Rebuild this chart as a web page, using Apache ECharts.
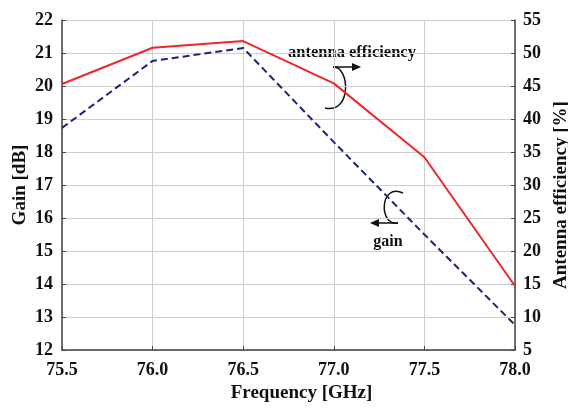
<!DOCTYPE html>
<html>
<head>
<meta charset="utf-8">
<script src="https://cdn.jsdelivr.net/npm/echarts@6/dist/echarts.min.js"></script>
<style>
  html, body { margin: 0; padding: 0; background: #fff; }
  #chart { width: 568px; height: 409px; }
</style>
</head>
<body>
<div id="chart"></div>
<script>
// values
const frequency = [75.5, 76.0, 76.5, 77.0, 77.5, 78.0];
const gain = [18.73, 20.76, 21.15, 18.3, 15.5, 12.76];
const efficiency = [45.3, 50.8, 51.8, 45.4, 34.2, 14.7];

const font = "Liberation Serif";
const labelStyle = { color: "#111", fontFamily: font, fontWeight: "bold", fontSize: 18 };
const nameStyle = { color: "#111", fontFamily: font, fontWeight: "bold", fontSize: 19 };

const myChart = echarts.init(document.getElementById("chart"));

const option = {
  backgroundColor: "#fff",
  animation: false,
  grid: { left: 62, right: 53, top: 20, bottom: 59, outerBoundsMode: "none" },
  xAxis: {
    type: "value",
    min: 75.5,
    max: 78.0,
    interval: 0.5,
    name: "Frequency [GHz]",
    nameLocation: "middle",
    nameGap: 33,
    nameTextStyle: Object.assign({ padding: [0, 0, 0, 26] }, nameStyle),
    axisLine: { lineStyle: { color: "#444", width: 1.5 } },
    axisTick: { inside: true, length: 4, lineStyle: { color: "#444" } },
    axisLabel: Object.assign({ margin: 11, formatter: (v) => v.toFixed(1) }, labelStyle),
    splitLine: { show: true, lineStyle: { color: "#cfcfcf" } },
  },
  yAxis: [
    {
      type: "value",
      min: 12,
      max: 22,
      interval: 1,
      name: "Gain [dB]",
      nameLocation: "middle",
      nameGap: 32,
      nameMoveOverlap: false,
      nameTextStyle: nameStyle,
      axisLine: { show: true, lineStyle: { color: "#444", width: 1.5 } },
      axisTick: { show: true, inside: true, length: 4, lineStyle: { color: "#444" } },
      axisLabel: Object.assign({ margin: 9 }, labelStyle),
      splitLine: { show: true, lineStyle: { color: "#cfcfcf" } },
    },
    {
      type: "value",
      min: 5,
      max: 55,
      interval: 5,
      name: "Antenna efficiency [%]",
      nameLocation: "middle",
      nameGap: 36,
      nameTextStyle: Object.assign({ padding: [0, 20, 0, 0] }, nameStyle),
      axisLine: { show: true, lineStyle: { color: "#444", width: 1.5 } },
      axisTick: { show: true, inside: true, length: 4, lineStyle: { color: "#444" } },
      axisLabel: Object.assign({ margin: 8 }, labelStyle),
      splitLine: { show: false },
    },
  ],
  series: [
    {
      name: "antenna efficiency",
      type: "line",
      yAxisIndex: 1,
      data: frequency.map((f, i) => [f, efficiency[i]]),
      showSymbol: false,
      lineStyle: { color: "#f0262c", width: 2 },
    },
    {
      name: "gain",
      type: "line",
      yAxisIndex: 0,
      data: frequency.map((f, i) => [f, gain[i]]),
      showSymbol: false,
      lineStyle: { color: "#1c237a", width: 2, type: [7, 4] },
    },
  ],
  graphic: [
    // antenna efficiency note
    {
      type: "text",
      x: 352, y: 53,
      style: { text: "antenna efficiency", fill: "#111", font: "bold 16.5px 'Liberation Serif'", align: "center", verticalAlign: "middle" },
    },
    {
      type: "bezierCurve",
      shape: { x1: 325, y1: 108, cpx1: 352, cpy1: 114, cpx2: 350, cpy2: 66, x2: 333, y2: 67 },
      style: { stroke: "#111", lineWidth: 1.5, fill: null },
    },
    {
      type: "line",
      shape: { x1: 333, y1: 67, x2: 353, y2: 67 },
      style: { stroke: "#111", lineWidth: 1.5 },
    },
    {
      type: "polygon",
      shape: { points: [[361, 67], [352, 63], [352, 71]] },
      style: { fill: "#111" },
    },
    // gain note
    {
      type: "text",
      x: 388, y: 242,
      style: { text: "gain", fill: "#111", font: "bold 16px 'Liberation Serif'", align: "center", verticalAlign: "middle" },
    },
    {
      type: "bezierCurve",
      shape: { x1: 403, y1: 193, cpx1: 380, cpy1: 182, cpx2: 378, cpy2: 226, x2: 398, y2: 223 },
      style: { stroke: "#111", lineWidth: 1.5, fill: null },
    },
    {
      type: "line",
      shape: { x1: 398, y1: 223, x2: 378, y2: 223 },
      style: { stroke: "#111", lineWidth: 1.5 },
    },
    {
      type: "polygon",
      shape: { points: [[370, 223], [379, 219], [379, 227]] },
      style: { fill: "#111" },
    },
  ],
};

myChart.setOption(option);
</script>
</body>
</html>
